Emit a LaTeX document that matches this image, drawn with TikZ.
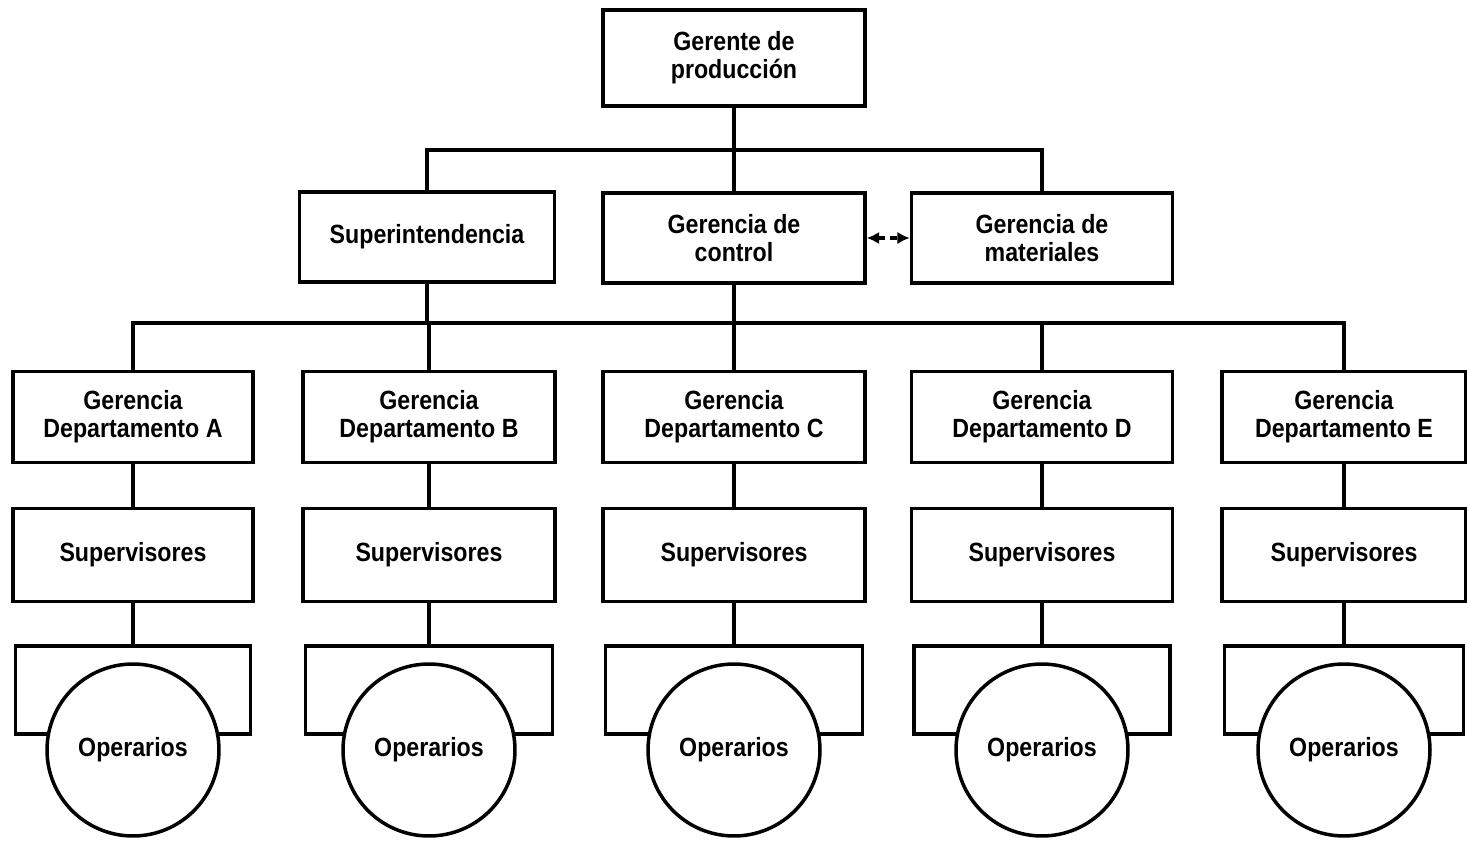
\documentclass[tikz,border=0pt]{standalone}
\usepackage{fontspec}
\setmainfont{Liberation Sans}[FakeStretch=0.88]
\usepackage{tikz}
\usetikzlibrary{arrows.meta}

\begin{document}
\begin{tikzpicture}[x=0.02cm, y=-0.02cm, line width=2pt,
        every node/.style={font=\bfseries\fontsize{15}{16}\selectfont, align=center}]
        \useasboundingbox (0,0) rectangle (1467,841);

        \begin{scope}[every node/.style={draw, line width=2pt, inner sep=0pt,
                        font=\bfseries\fontsize{15}{16}\selectfont, align=center}]
            \node[minimum width=5.24cm, minimum height=1.92cm] (top) at (734, 58) {Gerente de\\producción};

            \node[minimum width=5.1cm, minimum height=1.8cm] (sup)  at (427, 237)  {Superintendencia};
            \node[minimum width=5.24cm, minimum height=1.8cm] (ctrl) at (734, 238) {Gerencia de\\control};
            \node[minimum width=5.22cm, minimum height=1.8cm] (mat)  at (1042, 238) {Gerencia de\\materiales};
        \end{scope}

        % departamentos, supervisores y operarios
        \foreach \n/\x/\w in {A/133/240, B/429/252, C/734/262, D/1042/261, E/1344/244} {
            \node[draw, inner sep=0pt, minimum width=\w*0.02cm, minimum height=1.82cm]
                (dep\n) at (\x, 417) {Gerencia\\Departamento \n};
            \node[draw, inner sep=0pt, minimum width=\w*0.02cm, minimum height=1.86cm]
                (sv\n) at (\x, 555) {Supervisores};
            \node[draw, inner sep=0pt, minimum width=\w*0.02cm-0.1cm, minimum height=1.76cm]
                (box\n) at (\x, 690) {};
            \node[draw, circle, fill=white, inner sep=0pt, minimum size=3.44cm]
                (op\n) at (\x, 750) {Operarios};
            \draw (dep\n) -- (sv\n);
            \draw (sv\n) -- (box\n);
        }

        \coordinate (bus1) at (734, 150);
        \coordinate (bus2) at (734, 323);

        \draw (top) -- (ctrl);
        \draw (sup.north) |- (bus1) -| (mat.north);

        \draw (depA.north) |- (bus2) -| (depE.north);
        \draw (sup.south) -- (sup.south |- bus2);
        \draw (ctrl) -- (depC);
        \draw (depB.north) -- (depB.north |- bus2);
        \draw (depD.north) -- (depD.north |- bus2);

        \draw[{Latex[length=2.5mm,width=2.5mm]}-{Latex[length=2.5mm,width=2.5mm]}, dashed, dash pattern=on 4pt off 3pt]
            (ctrl.east) -- (mat.west);
\end{tikzpicture}
\end{document}
